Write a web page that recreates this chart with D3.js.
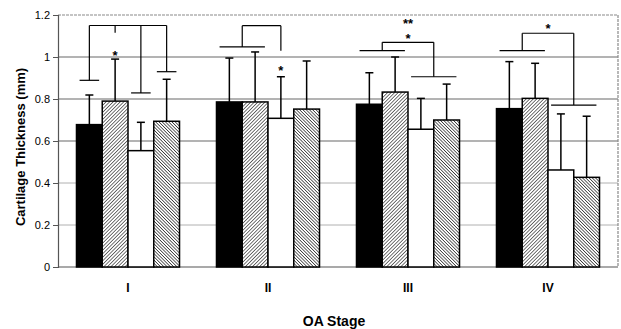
<!DOCTYPE html>
<html>
<head>
<meta charset="utf-8">
<script src="https://cdn.jsdelivr.net/npm/d3@7"></script>
<style>
  body { margin: 0; background: #fff; }
  svg text { font-family: Arial, "Liberation Sans", sans-serif; fill: #000; }
</style>
</head>
<body>
<div id="chart"></div>
<script>
// OA stages and the four measured groups
const stages = ["I", "II", "III", "IV"];
const series = ["s1", "s2", "s3", "s4"];

// mean thickness (mm) per stage, one array per group
const s1Mean = [0.678, 0.786, 0.775, 0.754];
const s2Mean = [0.790, 0.786, 0.833, 0.803];
const s3Mean = [0.554, 0.708, 0.656, 0.462];
const s4Mean = [0.694, 0.752, 0.700, 0.427];

// top of the error bar (mean + SD)
const s1Top = [0.819, 0.995, 0.925, 0.978];
const s2Top = [0.990, 1.024, 1.000, 0.970];
const s3Top = [0.689, 0.906, 0.803, 0.729];
const s4Top = [0.894, 0.981, 0.871, 0.718];

const yTicks = [0, 0.2, 0.4, 0.6, 0.8, 1, 1.2];

// significance brackets: top level, then legs (bar range and level they drop to)
const brackets = [
  {stage: "I", top: 1.15, legs: [
    {from: 0, to: 0, level: 0.889, line: true},
    {from: 1, to: 1, level: 1.115, line: false},
    {from: 2, to: 2, level: 0.829, line: true},
    {from: 3, to: 3, level: 0.930, line: true}]},
  {stage: "II", top: 1.149, legs: [
    {from: 0, to: 1, level: 1.048, line: true},
    {from: 2, to: 2, level: 1.030, line: false}]},
  {stage: "III", top: 1.07, legs: [
    {from: 0, to: 1, level: 1.030, line: true},
    {from: 2, to: 3, level: 0.906, line: true}]},
  {stage: "IV", top: 1.113, legs: [
    {from: 0, to: 1, level: 1.030, line: true},
    {from: 2, to: 3, level: 0.771, line: true}]}
];

// asterisks: bar index (or "mid" of the bracket), centre level of the mark
const stars = [
  {stage: "I", at: 1, level: 1.024, text: "*"},
  {stage: "II", at: 2, level: 0.948, text: "*"},
  {stage: "III", at: "mid", level: 1.173, text: "**"},
  {stage: "III", at: "mid", level: 1.103, text: "*"},
  {stage: "IV", at: "mid", level: 1.149, text: "*"}
];

const means = [s1Mean, s2Mean, s3Mean, s4Mean];
const tops = [s1Top, s2Top, s3Top, s4Top];
const rows = [];
stages.forEach((st, i) => {
  series.forEach((s, j) => {
    rows.push({stage: st, series: s, idx: j, mean: means[j][i], top: tops[j][i]});
  });
});

const W = 621, H = 329;
const margin = {top: 15, right: 3, bottom: 62, left: 58};
const width = W - margin.left - margin.right;
const height = H - margin.top - margin.bottom;

const svg = d3.select("#chart").append("svg")
  .attr("width", W)
  .attr("height", H);

// hatch patterns
const defs = svg.append("defs");
const hatch = (id, size, angle, sw) => {
  const p = defs.append("pattern")
    .attr("id", id)
    .attr("patternUnits", "userSpaceOnUse")
    .attr("width", size).attr("height", size)
    .attr("patternTransform", `rotate(${angle})`);
  p.append("rect").attr("width", size).attr("height", size).attr("fill", "#fff");
  p.append("line").attr("x1", 0).attr("y1", 0).attr("x2", 0).attr("y2", size)
    .attr("stroke", "#000").attr("stroke-width", sw);
};
hatch("hatchFwd", 2.5, 45, 1.1);
hatch("hatchBack", 2.3, -45, 1.2);

const fills = {s1: "#000", s2: "url(#hatchFwd)", s3: "#fff", s4: "url(#hatchBack)"};

const chart = svg.append("g")
  .attr("transform", `translate(${margin.left},${margin.top})`);

const x0 = d3.scaleBand()
  .domain(stages)
  .range([0, width])
  .paddingInner(0.264)
  .paddingOuter(0.132);

const x1 = d3.scaleBand()
  .domain(d3.range(series.length))
  .range([0, x0.bandwidth()]);

const y = d3.scaleLinear()
  .domain([0, 1.2])
  .range([height, 0]);

// gridlines
chart.append("g")
  .selectAll("line")
  .data(yTicks.filter(t => t > 0 && t < 1.2))
  .join("line")
  .attr("x1", 0).attr("x2", width)
  .attr("y1", d => y(d)).attr("y2", d => y(d))
  .attr("stroke", d => d >= 0.6 ? "#9a9a9a" : "#b0b0b0")
  .attr("stroke-width", d => d >= 0.6 ? 1.4 : 1);

// plot border (top + right, grey)
chart.append("path")
  .attr("d", `M0,${y(1.2)}H${width}V${height}`)
  .attr("fill", "none")
  .attr("stroke", "#8a8a8a")
  .attr("stroke-width", 1.2)
  .attr("stroke-dasharray", "3,1");

// y axis
const yAxis = d3.axisLeft(y)
  .tickValues(yTicks)
  .tickFormat(d => d3.format("~g")(d))
  .tickSize(5)
  .tickPadding(3);

const yAxisG = chart.append("g").call(yAxis);
yAxisG.select(".domain").attr("stroke", "#555").attr("stroke-width", 1.2);
yAxisG.selectAll(".tick line").attr("stroke", "#555");
yAxisG.selectAll(".tick text")
  .attr("font-size", 11)
  .style("font-family", "Arial, 'Liberation Sans', sans-serif");

// x baseline
chart.append("line")
  .attr("x1", 0).attr("x2", width)
  .attr("y1", height).attr("y2", height)
  .attr("stroke", "#555").attr("stroke-width", 1.2);

const barX = d => x0(d.stage) + x1(d.idx);
const bw = x1.bandwidth();

// bars
chart.append("g")
  .selectAll("rect")
  .data(rows)
  .join("rect")
  .attr("x", d => barX(d))
  .attr("y", d => y(d.mean))
  .attr("width", bw)
  .attr("height", d => y(0) - y(d.mean))
  .attr("fill", d => fills[d.series])
  .attr("stroke", "#000")
  .attr("stroke-width", 1.5);

// error bars (upper only)
const err = chart.append("g").attr("stroke", "#000").attr("stroke-width", 1.5);
err.selectAll(".stem")
  .data(rows)
  .join("line")
  .attr("class", "stem")
  .attr("x1", d => barX(d) + bw / 2).attr("x2", d => barX(d) + bw / 2)
  .attr("y1", d => y(d.mean)).attr("y2", d => y(d.top));
err.selectAll(".cap")
  .data(rows)
  .join("line")
  .attr("class", "cap")
  .attr("x1", d => barX(d) + bw / 2 - 4).attr("x2", d => barX(d) + bw / 2 + 4)
  .attr("y1", d => y(d.top)).attr("y2", d => y(d.top));

// significance brackets
const inset = bw * 0.12;
const legX = (st, leg) => {
  const a = x0(st) + x1(leg.from) + inset;
  const b = x0(st) + x1(leg.to) + bw - inset;
  return (a + b) / 2;
};
const br = chart.append("g").attr("stroke", "#000").attr("stroke-width", 1.2).attr("fill", "none");
brackets.forEach(b => {
  const xs = b.legs.map(l => legX(b.stage, l));
  br.append("line")
    .attr("x1", d3.min(xs)).attr("x2", d3.max(xs))
    .attr("y1", y(b.top)).attr("y2", y(b.top));
  b.legs.forEach((l, i) => {
    br.append("line")
      .attr("x1", xs[i]).attr("x2", xs[i])
      .attr("y1", y(b.top)).attr("y2", y(l.level));
    if (l.line) {
      br.append("line")
        .attr("x1", x0(b.stage) + x1(l.from) + inset)
        .attr("x2", x0(b.stage) + x1(l.to) + bw - inset)
        .attr("y1", y(l.level)).attr("y2", y(l.level));
    }
  });
});

// asterisks
const starX = s => {
  if (s.at === "mid") {
    const b = brackets.find(k => k.stage === s.stage);
    const xs = b.legs.map(l => legX(b.stage, l));
    return (d3.min(xs) + d3.max(xs)) / 2;
  }
  return x0(s.stage) + x1(s.at) + bw / 2;
};
chart.append("g")
  .selectAll("text")
  .data(stars)
  .join("text")
  .attr("x", d => starX(d))
  .attr("y", d => y(d.level))
  .attr("dy", "0.58em")
  .attr("text-anchor", "middle")
  .attr("font-size", 13)
  .attr("font-weight", "bold")
  .text(d => d.text);

// category labels
chart.append("g")
  .selectAll("text")
  .data(stages)
  .join("text")
  .attr("x", d => x0(d) + x0.bandwidth() / 2)
  .attr("y", height + 25)
  .attr("text-anchor", "middle")
  .attr("font-size", 12)
  .attr("font-weight", "bold")
  .text(d => d);

// axis titles
svg.append("text")
  .attr("x", margin.left + width / 2 - 4)
  .attr("y", 326)
  .attr("text-anchor", "middle")
  .attr("font-size", 14)
  .attr("font-weight", "bold")
  .text("OA Stage");

svg.append("text")
  .attr("transform", "translate(25,147) rotate(-90)")
  .attr("text-anchor", "middle")
  .attr("font-size", 13)
  .attr("font-weight", "bold")
  .text("Cartilage Thickness (mm)");
</script>
</body>
</html>
